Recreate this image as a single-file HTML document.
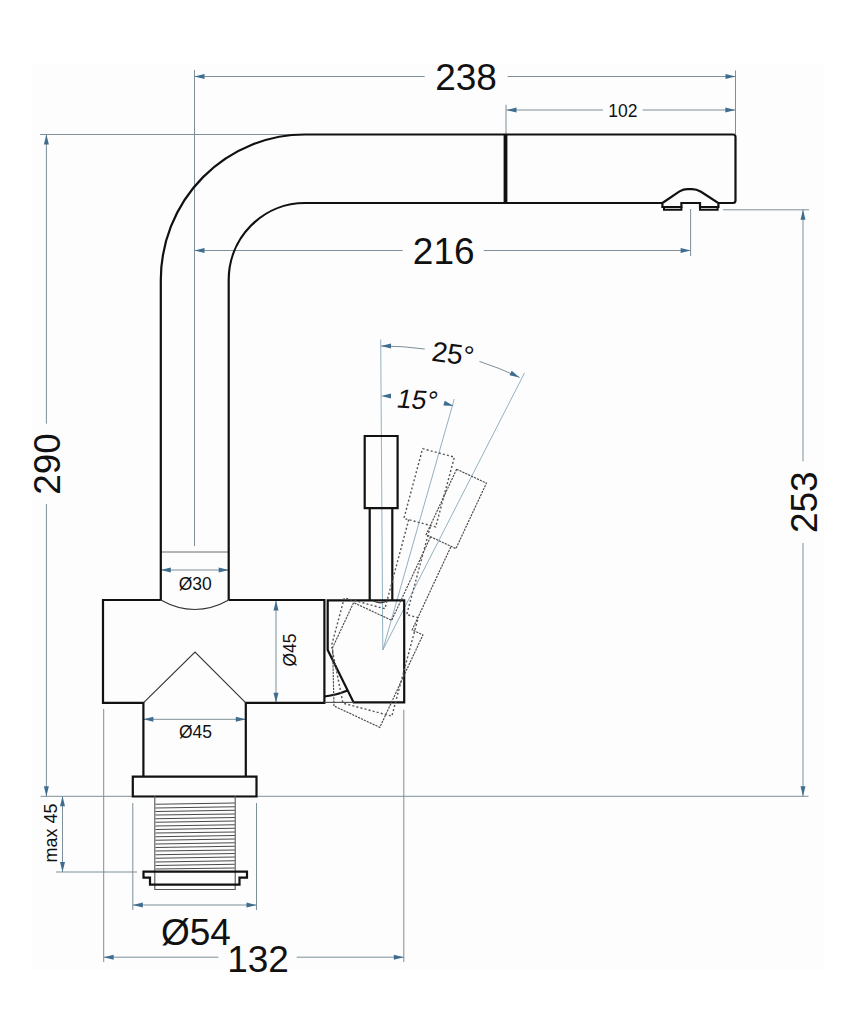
<!DOCTYPE html>
<html><head><meta charset="utf-8"><style>
html,body{margin:0;padding:0;background:#fff;}
svg{display:block;}
text{font-family:"Liberation Sans",sans-serif;fill:#111;}
</style></head><body>
<svg width="850" height="1036" viewBox="0 0 850 1036">
<rect x="0" y="0" width="850" height="1036" fill="#ffffff"/>
<rect x="32" y="63" width="792" height="907" fill="#fdfdfd"/>
<line x1="194.5" y1="70" x2="194.5" y2="546" stroke="#7d8f98" stroke-width="1" />
<line x1="735.5" y1="70.5" x2="735.5" y2="134" stroke="#7d8f98" stroke-width="1" />
<line x1="194.5" y1="76.5" x2="424.7" y2="76.5" stroke="#7d8f98" stroke-width="1" />
<line x1="507.6" y1="76.5" x2="735.5" y2="76.5" stroke="#7d8f98" stroke-width="1" />
<path d="M194.5 76.5 L204.5 74.0 L204.5 79.0Z" fill="#3f6d90"/>
<path d="M735.5 76.5 L725.5 79.0 L725.5 74.0Z" fill="#3f6d90"/>
<text x="466" y="90.2" font-size="37" text-anchor="middle">238</text>
<line x1="506" y1="104.7" x2="506" y2="134" stroke="#7d8f98" stroke-width="1" />
<line x1="506.5" y1="110" x2="603" y2="110" stroke="#7d8f98" stroke-width="1" />
<line x1="642.6" y1="110" x2="735.3" y2="110" stroke="#7d8f98" stroke-width="1" />
<path d="M506.5 110.0 L516.5 107.5 L516.5 112.5Z" fill="#3f6d90"/>
<path d="M735.3 110.0 L725.3 112.5 L725.3 107.5Z" fill="#3f6d90"/>
<text x="622.8" y="117" font-size="17.5" text-anchor="middle">102</text>
<line x1="690.6" y1="209" x2="690.6" y2="256" stroke="#7d8f98" stroke-width="1" />
<line x1="194.5" y1="250.5" x2="402.6" y2="250.5" stroke="#7d8f98" stroke-width="1" />
<line x1="483.8" y1="250.5" x2="690.6" y2="250.5" stroke="#7d8f98" stroke-width="1" />
<path d="M194.5 250.5 L204.5 248.0 L204.5 253.0Z" fill="#3f6d90"/>
<path d="M690.6 250.5 L680.6 253.0 L680.6 248.0Z" fill="#3f6d90"/>
<text x="443.7" y="264" font-size="37" text-anchor="middle">216</text>
<line x1="40.2" y1="134.5" x2="305" y2="134.5" stroke="#7d8f98" stroke-width="1" />
<line x1="40.6" y1="796.3" x2="808.5" y2="796.3" stroke="#7d8f98" stroke-width="1" />
<line x1="46.4" y1="134.5" x2="46.4" y2="423.7" stroke="#7d8f98" stroke-width="1" />
<line x1="46.4" y1="504" x2="46.4" y2="796.3" stroke="#7d8f98" stroke-width="1" />
<path d="M46.4 134.5 L48.9 144.5 L43.9 144.5Z" fill="#3f6d90"/>
<path d="M46.4 796.3 L43.9 786.3 L48.9 786.3Z" fill="#3f6d90"/>
<text x="59.9" y="464" font-size="37" text-anchor="middle" transform="rotate(-90 59.9 464)">290</text>
<line x1="723" y1="209.8" x2="809" y2="209.8" stroke="#7d8f98" stroke-width="1" />
<line x1="803" y1="209.8" x2="803" y2="461.3" stroke="#7d8f98" stroke-width="1" />
<line x1="803" y1="543" x2="803" y2="796.3" stroke="#7d8f98" stroke-width="1" />
<path d="M803.0 209.8 L805.5 219.8 L800.5 219.8Z" fill="#3f6d90"/>
<path d="M803.0 796.3 L800.5 786.3 L805.5 786.3Z" fill="#3f6d90"/>
<text x="816.9" y="502.2" font-size="37" text-anchor="middle" transform="rotate(-90 816.9 502.2)">253</text>
<line x1="62.5" y1="796.3" x2="62.5" y2="872" stroke="#7d8f98" stroke-width="1" />
<path d="M62.5 796.3 L65.0 806.3 L60.0 806.3Z" fill="#3f6d90"/>
<path d="M62.5 872.0 L60.0 862.0 L65.0 862.0Z" fill="#3f6d90"/>
<line x1="56" y1="872" x2="137" y2="872" stroke="#7d8f98" stroke-width="1" />
<text x="57" y="833" font-size="18" text-anchor="middle" transform="rotate(-90 57 833)">max 45</text>
<line x1="132.8" y1="803" x2="132.8" y2="910" stroke="#7d8f98" stroke-width="1" />
<line x1="256.5" y1="803" x2="256.5" y2="910" stroke="#7d8f98" stroke-width="1" />
<line x1="132.8" y1="905" x2="256.5" y2="905" stroke="#7d8f98" stroke-width="1" />
<path d="M132.8 905.0 L142.8 902.5 L142.8 907.5Z" fill="#3f6d90"/>
<path d="M256.5 905.0 L246.5 907.5 L246.5 902.5Z" fill="#3f6d90"/>
<text x="195.9" y="944.5" font-size="37" text-anchor="middle">Ø54</text>
<line x1="103.7" y1="709" x2="103.7" y2="962" stroke="#7d8f98" stroke-width="1" />
<line x1="403.8" y1="709.8" x2="403.8" y2="962" stroke="#7d8f98" stroke-width="1" />
<line x1="103.7" y1="957.2" x2="218.4" y2="957.2" stroke="#7d8f98" stroke-width="1" />
<line x1="296.7" y1="957.2" x2="403.8" y2="957.2" stroke="#7d8f98" stroke-width="1" />
<path d="M103.7 957.2 L113.7 954.7 L113.7 959.7Z" fill="#3f6d90"/>
<path d="M403.8 957.2 L393.8 959.7 L393.8 954.7Z" fill="#3f6d90"/>
<text x="258" y="971.6" font-size="37" text-anchor="middle">132</text>
<line x1="160.8" y1="552" x2="228.7" y2="552" stroke="#6b6b6b" stroke-width="1" />
<line x1="160.8" y1="570" x2="228.7" y2="570" stroke="#7d8f98" stroke-width="1" />
<path d="M160.8 570.0 L170.8 567.5 L170.8 572.5Z" fill="#3f6d90"/>
<path d="M228.7 570.0 L218.7 572.5 L218.7 567.5Z" fill="#3f6d90"/>
<text x="195.2" y="589.6" font-size="17.5" text-anchor="middle">Ø30</text>
<line x1="143.4" y1="719.3" x2="245.8" y2="719.3" stroke="#7d8f98" stroke-width="1" />
<path d="M143.4 719.3 L153.4 716.8 L153.4 721.8Z" fill="#3f6d90"/>
<path d="M245.8 719.3 L235.8 721.8 L235.8 716.8Z" fill="#3f6d90"/>
<text x="195.5" y="738.4" font-size="17.5" text-anchor="middle">Ø45</text>
<line x1="276" y1="600.5" x2="276" y2="702.8" stroke="#7d8f98" stroke-width="1" />
<path d="M276.0 600.5 L278.5 610.5 L273.5 610.5Z" fill="#3f6d90"/>
<path d="M276.0 702.8 L273.5 692.8 L278.5 692.8Z" fill="#3f6d90"/>
<text x="296" y="650" font-size="17.5" text-anchor="middle" transform="rotate(-90 296 650)">Ø45</text>
<line x1="380.7" y1="339.4" x2="382.8" y2="650" stroke="#93b1c1" stroke-width="1" />
<line x1="382.8" y1="650" x2="454.3" y2="399" stroke="#93b1c1" stroke-width="1" />
<line x1="382.8" y1="650" x2="524.5" y2="373" stroke="#93b1c1" stroke-width="1" />
<path d="M381.0 346.0 A322 322 0 0 1 424.7 349.0" fill="none" stroke="#7d8f98" stroke-width="1"/>
<path d="M479.4 361.4 A322 322 0 0 1 519.6 377.4" fill="none" stroke="#7d8f98" stroke-width="1"/>
<path d="M381.0 346.0 L391.0 343.5 L391.0 348.5Z" fill="#3f6d90"/>
<path d="M519.6 377.4 L509.5 375.3 L511.7 370.8Z" fill="#3f6d90"/>
<path d="M381.0 396.0 L391.0 393.5 L391.0 398.5Z" fill="#3f6d90"/>
<path d="M453.7 405.9 L443.4 405.6 L444.7 400.8Z" fill="#3f6d90"/>
<g transform="translate(451.6 363.4) rotate(8)"><text x="0" y="0" font-size="28" text-anchor="middle">25°</text></g>
<g transform="translate(415.6 408.6) rotate(4) skewX(-8)"><text x="0" y="0" font-size="26.5" text-anchor="middle">15°</text></g>
<path d="M160.8 600 V280 A144.2 145.5 0 0 1 305 134.5 H733 Q735.5 134.5 735.5 137 V200.5 Q735.5 203 733 203 H718" fill="none" stroke="#111111" stroke-width="2.2" stroke-linejoin="miter" />
<path d="M228.7 600 V280 A76.3 77 0 0 1 305 203 H662.7" fill="none" stroke="#111111" stroke-width="2.2" stroke-linejoin="miter" />
<path d="M662.4 203 L679.5 191.4 Q683.5 189.2 687.5 189.2 H692 Q696.5 189.2 701 191.8 L718.4 203 V207 H700 V203 H681.4 V207 H662.4 Z" fill="none" stroke="#111111" stroke-width="2.2" stroke-linejoin="miter" />
<path d="M664 207 V209.8 H681.4 V207 M700 207 V209.8 H717.6 V207" fill="none" stroke="#111111" stroke-width="2" stroke-linejoin="miter" />
<line x1="505.5" y1="134.5" x2="505.5" y2="203" stroke="#111111" stroke-width="3.8" />
<path d="M160.8 600 H103 V702.8 H143.4 V776.6 M245.8 776.6 V702.8 H324.4 V600 H228.7" fill="none" stroke="#111111" stroke-width="2.2" stroke-linejoin="miter" />
<path d="M132.8 776.6 H256.5 V796.5 H132.8 Z" fill="none" stroke="#111111" stroke-width="2.2" stroke-linejoin="miter" />
<path d="M160.8 600 Q194.7 619 228.7 600" fill="none" stroke="#333" stroke-width="1.1" stroke-linejoin="miter" />
<path d="M143.4 702.8 L195 652 L245.8 702.8" fill="none" stroke="#333" stroke-width="1.1" stroke-linejoin="miter" />
<path d="M327.7 600.4 H404.2 V702.4 H353.6 L327.7 650 Z" fill="none" stroke="#111111" stroke-width="2.2" stroke-linejoin="miter" />
<line x1="324.4" y1="702.4" x2="353.6" y2="702.4" stroke="#555" stroke-width="1.2" />
<path d="M324.4 696.5 Q337 695 347.4 690.6" fill="none" stroke="#111111" stroke-width="2.2" stroke-linejoin="miter" />
<path d="M373 600.8 Q380.5 604.8 387.5 600.8" fill="none" stroke="#333" stroke-width="1.2" stroke-linejoin="miter" />
<path d="M364.7 436 H397.6 V508.2 H364.7 Z" fill="none" stroke="#111111" stroke-width="2.2" stroke-linejoin="miter" />
<path d="M369.7 508.2 V600.4 M392.3 508.2 V600.4" fill="none" stroke="#111111" stroke-width="2.2" stroke-linejoin="miter" />
<path d="M154.8 796 V889.5 H235.2 V796" fill="none" stroke="#555" stroke-width="1.1" stroke-linejoin="miter" />
<line x1="155.5" y1="804.3" x2="234.8" y2="803.0999999999999" stroke="#4a4a4a" stroke-width="1.05" />
<line x1="155.5" y1="807.9" x2="234.8" y2="806.6999999999999" stroke="#4a4a4a" stroke-width="1.05" />
<line x1="155.5" y1="811.5" x2="234.8" y2="810.3" stroke="#4a4a4a" stroke-width="1.05" />
<line x1="155.5" y1="815.0999999999999" x2="234.8" y2="813.8999999999999" stroke="#4a4a4a" stroke-width="1.05" />
<line x1="155.5" y1="818.6999999999999" x2="234.8" y2="817.4999999999999" stroke="#4a4a4a" stroke-width="1.05" />
<line x1="155.5" y1="822.3" x2="234.8" y2="821.0999999999999" stroke="#4a4a4a" stroke-width="1.05" />
<line x1="155.5" y1="825.9" x2="234.8" y2="824.6999999999999" stroke="#4a4a4a" stroke-width="1.05" />
<line x1="155.5" y1="829.5" x2="234.8" y2="828.3" stroke="#4a4a4a" stroke-width="1.05" />
<line x1="155.5" y1="833.0999999999999" x2="234.8" y2="831.8999999999999" stroke="#4a4a4a" stroke-width="1.05" />
<line x1="155.5" y1="836.6999999999999" x2="234.8" y2="835.4999999999999" stroke="#4a4a4a" stroke-width="1.05" />
<line x1="155.5" y1="840.3" x2="234.8" y2="839.0999999999999" stroke="#4a4a4a" stroke-width="1.05" />
<line x1="155.5" y1="843.9" x2="234.8" y2="842.6999999999999" stroke="#4a4a4a" stroke-width="1.05" />
<line x1="155.5" y1="847.5" x2="234.8" y2="846.3" stroke="#4a4a4a" stroke-width="1.05" />
<line x1="155.5" y1="851.0999999999999" x2="234.8" y2="849.8999999999999" stroke="#4a4a4a" stroke-width="1.05" />
<line x1="155.5" y1="854.6999999999999" x2="234.8" y2="853.4999999999999" stroke="#4a4a4a" stroke-width="1.05" />
<line x1="155.5" y1="858.3" x2="234.8" y2="857.0999999999999" stroke="#4a4a4a" stroke-width="1.05" />
<line x1="155.5" y1="861.9" x2="234.8" y2="860.6999999999999" stroke="#4a4a4a" stroke-width="1.05" />
<line x1="155.5" y1="865.5" x2="234.8" y2="864.3" stroke="#4a4a4a" stroke-width="1.05" />
<line x1="155.5" y1="869.0999999999999" x2="234.8" y2="867.8999999999999" stroke="#4a4a4a" stroke-width="1.05" />
<path d="M143.5 871.6 H247 V877.6 H239.5 V884.6 H150 V877.6 H143.5 Z" fill="none" stroke="#111111" stroke-width="2.2" stroke-linejoin="miter" />
<g transform="rotate(15 345.6 662.2)" fill="none" stroke="#555" stroke-width="1.4" stroke-dasharray="2 2.2">
<path d="M364.7 436 H397.6 V508.2 H364.7 Z"/>
<path d="M369.7 508.2 V600.4 H327.7 V650 L353.6 702.4 H404.2 V600.4 H392.3 V508.2"/>
</g>
<g transform="rotate(25 335.7 659.9)" fill="none" stroke="#4a4a4a" stroke-width="1.15" stroke-dasharray="2.2 1">
<path d="M364.7 436 H397.6 V508.2 H364.7 Z"/>
<path d="M369.7 508.2 V600.4 H327.7 V650 L353.6 702.4 H404.2 V600.4 H392.3 V508.2"/>
</g>
</svg>
</body></html>
